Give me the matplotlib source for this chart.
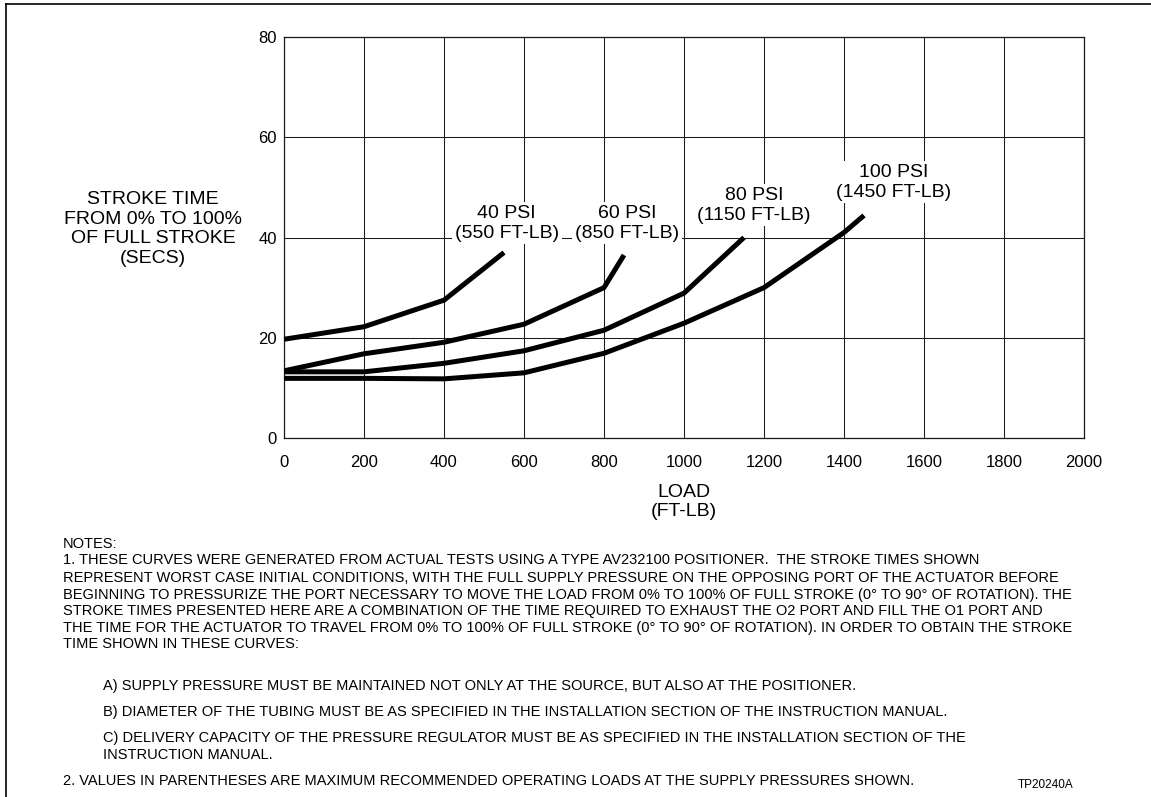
import matplotlib
matplotlib.use("Agg")
import matplotlib.pyplot as plt
from matplotlib.lines import Line2D

plt.rcParams["font.family"] = ["Liberation Sans", "DejaVu Sans"]

# Stroke time (s) versus load (ft-lb) at each supply pressure
load_40 = [0, 200, 400, 550]
time_40 = [19.7, 22.2, 27.5, 37.0]
load_60 = [0, 200, 400, 600, 800, 850]
time_60 = [13.4, 16.8, 19.1, 22.7, 30.0, 36.5]
load_80 = [0, 200, 400, 600, 800, 1000, 1150]
time_80 = [13.2, 13.2, 14.9, 17.4, 21.5, 28.9, 40.0]
load_100 = [0, 200, 400, 600, 800, 1000, 1200, 1400, 1450]
time_100 = [11.9, 11.9, 11.8, 13.0, 16.9, 22.9, 30.0, 41.0, 44.4]

curve_labels = ["40 PSI\n(550 FT-LB)", "60 PSI\n(850 FT-LB)",
                "80 PSI\n(1150 FT-LB)", "100 PSI\n(1450 FT-LB)"]
label_x = [557, 857, 1175, 1525]
label_y = [42.8, 42.8, 46.4, 51.0]

x_ticks = list(range(0, 2001, 200))
y_ticks = list(range(0, 81, 20))

y_title = "STROKE TIME\nFROM 0% TO 100%\nOF FULL STROKE\n(SECS)"
x_title = "LOAD\n(FT-LB)"

notes_head = [
    "NOTES:",
    "1. THESE CURVES WERE GENERATED FROM ACTUAL TESTS USING A TYPE AV232100 POSITIONER.  THE STROKE TIMES SHOWN",
    "REPRESENT WORST CASE INITIAL CONDITIONS, WITH THE FULL SUPPLY PRESSURE ON THE OPPOSING PORT OF THE ACTUATOR BEFORE",
    "BEGINNING TO PRESSURIZE THE PORT NECESSARY TO MOVE THE LOAD FROM 0% TO 100% OF FULL STROKE (0\u00b0 TO 90\u00b0 OF ROTATION). THE",
    "STROKE TIMES PRESENTED HERE ARE A COMBINATION OF THE TIME REQUIRED TO EXHAUST THE O2 PORT AND FILL THE O1 PORT AND",
    "THE TIME FOR THE ACTUATOR TO TRAVEL FROM 0% TO 100% OF FULL STROKE (0\u00b0 TO 90\u00b0 OF ROTATION). IN ORDER TO OBTAIN THE STROKE",
    "TIME SHOWN IN THESE CURVES:",
]
notes_sub = [
    ["A) SUPPLY PRESSURE MUST BE MAINTAINED NOT ONLY AT THE SOURCE, BUT ALSO AT THE POSITIONER."],
    ["B) DIAMETER OF THE TUBING MUST BE AS SPECIFIED IN THE INSTALLATION SECTION OF THE INSTRUCTION MANUAL."],
    ["C) DELIVERY CAPACITY OF THE PRESSURE REGULATOR MUST BE AS SPECIFIED IN THE INSTALLATION SECTION OF THE",
     "INSTRUCTION MANUAL."],
]
note_2 = "2. VALUES IN PARENTHESES ARE MAXIMUM RECOMMENDED OPERATING LOADS AT THE SUPPLY PRESSURES SHOWN."
drawing_id = "TP20240A"

W, H = 1151, 797
fig = plt.figure(figsize=(W / 100, H / 100), dpi=100)


def fx(px):
    return px / W


def fy(py):
    return 1 - py / H


ax = fig.add_axes([fx(284), fy(438), fx(1084) - fx(284), fy(37) - fy(438)])
ax.set_xlim(0, 2000)
ax.set_ylim(0, 80)
ax.set_xticks(x_ticks)
ax.set_yticks(y_ticks)
ax.tick_params(length=0, labelsize=12)
ax.tick_params(axis="y", pad=5)
ax.tick_params(axis="x", pad=12)
ax.grid(True, color="#1a1a1a", linewidth=0.75)
ax.set_axisbelow(True)
for s in ax.spines.values():
    s.set_linewidth(0.9)
    s.set_color("#1a1a1a")

for xs, ys in [(load_40, time_40), (load_60, time_60),
               (load_80, time_80), (load_100, time_100)]:
    ax.plot(xs, ys, color="black", linewidth=3.6,
            solid_capstyle="butt", solid_joinstyle="miter", zorder=3)

for txt, lx, ly in zip(curve_labels, label_x, label_y):
    ax.text(lx, ly, txt, ha="center", va="center", fontsize=14,
            multialignment="center", linespacing=1.2, zorder=4,
            bbox=dict(facecolor="white", edgecolor="none", pad=2))

fig.text(fx(153), fy(229), y_title, ha="center", va="center",
         fontsize=14, linespacing=1.22, multialignment="center")
fig.text(fx(684), fy(502), x_title, ha="center", va="center",
         fontsize=14, linespacing=1.15, multialignment="center")

# Notes block
note_size = 10.5
head_base = [548, 564.5, 581.5, 598.5, 615.5, 632, 648.5]
for line, yb in zip(notes_head, head_base):
    fig.text(fx(63), fy(yb), line, ha="left", va="baseline", fontsize=note_size)
sub_base = [690, 716, 742]
for lines, yb in zip(notes_sub, sub_base):
    for k, p in enumerate(lines):
        fig.text(fx(103), fy(yb + 17 * k), p, ha="left", va="baseline",
                 fontsize=note_size)
fig.text(fx(63), fy(785), note_2, ha="left", va="baseline", fontsize=note_size)
fig.text(fx(1046), fy(788), drawing_id, ha="center", va="baseline", fontsize=8.5)

# Page frame (left and top edges)
fig.add_artist(Line2D([fx(6), fx(6)], [fy(4), 0], transform=fig.transFigure,
                      color="black", linewidth=1.2))
fig.add_artist(Line2D([fx(6), 1], [fy(4), fy(4)], transform=fig.transFigure,
                      color="black", linewidth=1.2))

fig.savefig("out.png", dpi=100, facecolor="white")
